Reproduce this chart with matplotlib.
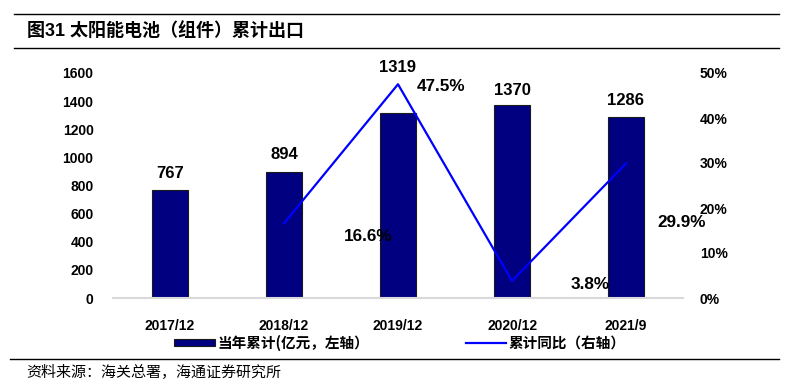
import matplotlib
matplotlib.use("Agg")
import matplotlib.pyplot as plt
from matplotlib.patches import Patch
from matplotlib.lines import Line2D
import numpy as np

categories = ["2017/12", "2018/12", "2019/12", "2020/12", "2021/9"]
export_value = [767, 894, 1319, 1370, 1286]          # 亿元
yoy_categories = ["2018/12", "2019/12", "2020/12", "2021/9"]
yoy_growth = [0.166, 0.475, 0.038, 0.299]
left_ticks = [0, 200, 400, 600, 800, 1000, 1200, 1400, 1600]
right_ticks = [0, 0.1, 0.2, 0.3, 0.4, 0.5]

title = "图31 太阳能电池（组件）累计出口"
legend_bar = "当年累计(亿元，左轴）"
legend_line = "累计同比（右轴）"
source = "资料来源：海关总署，海通证券研究所"

LAT = "Liberation Sans"
CJK = "Noto Sans CJK SC"
plt.rcParams['font.family'] = [LAT, CJK, 'DejaVu Sans']

fig = plt.figure(figsize=(7.9, 3.9), dpi=100)
W, H = 790, 390
ax = fig.add_axes([113 / W, 92 / H, 570 / W, 225 / H])

x = np.arange(len(categories))
bars = ax.bar(x, export_value, width=0.32, color='#000080',
              edgecolor='#1a1a1a', linewidth=0.8, zorder=2)
ax.set_xlim(-0.5, len(categories) - 0.5)
ax.set_ylim(0, 1600)
ax.set_yticks(left_ticks)
ax.set_yticklabels([str(t) for t in left_ticks])
ax.set_xticks(x)
ax.set_xticklabels(categories)
for s in ['top', 'right', 'left']:
    ax.spines[s].set_visible(False)
ax.spines['bottom'].set_color('#d9d9d9')
ax.spines['bottom'].set_linewidth(1.5)
ax.tick_params(axis='both', length=0, labelsize=10)
ax.tick_params(axis='y', pad=14)
ax.tick_params(axis='x', pad=15)
for lab in ax.get_xticklabels() + ax.get_yticklabels():
    lab.set_fontweight('bold')

bar_label_offsets = [17, 18, 45, 15, 17]
for xi, v, off in zip(x, export_value, bar_label_offsets):
    ax.annotate(str(v), (xi, v), xytext=(0, off), textcoords='offset pixels',
                ha='center', va='center', fontsize=12, fontweight='bold')

ax2 = ax.twinx()
xl = [categories.index(c) for c in yoy_categories]
ax2.plot(xl, yoy_growth, color='#0000FF', lw=1.6, zorder=3)
ax2.set_ylim(0, 0.5)
ax2.set_yticks(right_ticks)
ax2.set_yticklabels([f"{int(round(t * 100))}%" for t in right_ticks])
for s in ['top', 'right', 'left', 'bottom']:
    ax2.spines[s].set_visible(False)
ax2.tick_params(axis='y', length=0, labelsize=10, pad=12)
for lab in ax2.get_yticklabels():
    lab.set_fontweight('bold')

line_label_offsets = [(84, -13), (43, -2), (78, -4), (56, -59)]
for xi, v, off in zip(xl, yoy_growth, line_label_offsets):
    ax2.annotate(f"{v * 100:.1f}%", (xi, v), xytext=off, textcoords='offset pixels',
                 ha='center', va='center', fontsize=12.3, fontweight='bold')

# legend
handles = [Patch(facecolor='#000080', edgecolor='#1a1a1a', linewidth=0.8),
           Line2D([0], [0], color='#0000FF', lw=1.6)]
leg = fig.legend(handles, [legend_bar, legend_line], ncol=2,
                 loc='center', bbox_to_anchor=(400 / W, 1 - 343 / H),
                 frameon=False, handlelength=2.8, handleheight=0.4,
                 handletextpad=0.15, columnspacing=6.6,
                 prop={'family': [CJK], 'weight': 'bold', 'size': 10.5})

# title and rules
fig.add_artist(Line2D([14 / W, 779 / W], [1 - 14 / H, 1 - 14 / H], color='black', lw=1.0))
fig.add_artist(Line2D([14 / W, 779 / W], [1 - 48 / H, 1 - 48 / H], color='black', lw=1.0))
fig.add_artist(Line2D([10 / W, 779 / W], [1 - 359 / H, 1 - 359 / H], color='black', lw=1.0))
fig.text(27 / W, 1 - 32 / H, title, ha='left', va='center', fontsize=13,
         fontweight='bold', family=[LAT, CJK])
fig.text(26 / W, 1 - 373 / H, source, ha='left', va='center', fontsize=10.8,
         family=[CJK])

fig.savefig("out.png", dpi=100)
